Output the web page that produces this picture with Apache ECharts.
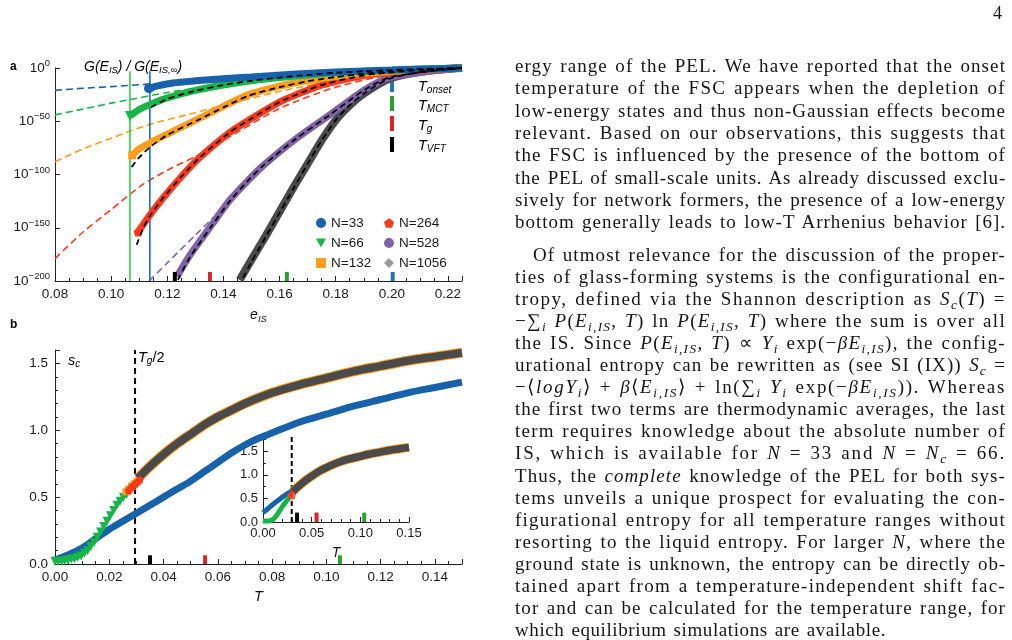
<!DOCTYPE html>
<html><head><meta charset="utf-8">
<script src="https://cdn.jsdelivr.net/npm/echarts@6/dist/echarts.min.js"></script>
<style>
html,body{margin:0;padding:0;background:#fff;width:1012px;height:640px;overflow:hidden}
#c{position:absolute;left:0;top:0;width:1012px;height:640px}
#txt{position:absolute;left:515px;top:0;width:491px;height:640px;font-family:'Liberation Serif','Times New Roman',serif;font-size:19px;color:#151515}
.l{position:absolute;left:0;white-space:nowrap;line-height:22px}
.l i{font-style:italic}
.l sub{font-size:0.7em;vertical-align:-0.28em;line-height:0}
#pg{position:absolute;left:993px;top:3px;font-family:'Liberation Serif',serif;font-size:18px;color:#151515}
</style></head><body>
<div id="c"></div>
<div id="txt"></div>
<div id="pg">4</div>
<script>
// ---------------- Panel a : log10 G(E_IS)/G(E_IS,inf) vs e_IS ----------------
const aXRange = [0.08, 0.225];
const aYRange = [-200, 0];
const aYTickLabels = [-200, -150, -100, -50, 0];
// thick data bands [e_IS, log10 G]
const aBandN33  = [[0.1135,-19],[0.117,-16.5],[0.122,-14],[0.13,-12],[0.14,-10],[0.15,-8.5],[0.166,-5.7],[0.18,-3.8],[0.19,-2.7],[0.20,-1.9],[0.21,-1.1],[0.225,0]];
const aBandN66  = [[0.1067,-45],[0.11,-39],[0.115,-33],[0.12,-28],[0.13,-21],[0.14,-16],[0.15,-12],[0.16,-9],[0.17,-6.5],[0.18,-4.5],[0.19,-3],[0.20,-2],[0.21,-1],[0.225,0]];
const aBandN132 = [[0.1075,-82],[0.11,-76],[0.114,-70],[0.12,-62],[0.1316,-47],[0.14,-36],[0.149,-25],[0.16,-17],[0.17,-12],[0.18,-8],[0.19,-5],[0.20,-3],[0.21,-1.5],[0.225,0]];
const aBandN264 = [[0.1096,-154],[0.1138,-138],[0.1185,-122],[0.1257,-100],[0.1316,-84],[0.142,-61],[0.149,-49],[0.16,-32],[0.166,-25],[0.175,-16],[0.19,-7],[0.20,-4],[0.21,-2],[0.225,0]];
const aBandN528 = [[0.1234,-196],[0.128,-176],[0.1362,-146],[0.1423,-124],[0.1494,-104],[0.154,-92],[0.1661,-66],[0.1779,-44],[0.19,-21],[0.199,-9],[0.2135,-3],[0.225,0]];
const aBandN1056= [[0.1458,-199],[0.15,-180],[0.155,-158],[0.16,-135],[0.165,-112],[0.17,-90],[0.175,-68],[0.18,-49],[0.185,-35],[0.19,-24],[0.1992,-10],[0.2135,-2.5],[0.225,0]];
// black dashed fits
const aFitN66   = [[0.1142,-37],[0.12,-29],[0.13,-21.5],[0.14,-16],[0.15,-12],[0.16,-9],[0.17,-6.5],[0.18,-4.5],[0.19,-3],[0.20,-2],[0.21,-1],[0.225,0]];
const aFitN132  = [[0.1073,-93],[0.11,-84],[0.114,-74],[0.12,-63],[0.1316,-48],[0.14,-37],[0.149,-26],[0.16,-18],[0.17,-12.5],[0.18,-8.5],[0.19,-5.5],[0.20,-3],[0.21,-1.5],[0.225,0]];
const aFitN264  = [[0.1091,-166],[0.1115,-150],[0.1138,-139],[0.1185,-122],[0.1257,-100],[0.1316,-84],[0.142,-61],[0.149,-49],[0.16,-32],[0.175,-16],[0.19,-7],[0.20,-4],[0.21,-2],[0.225,0]];
const aFitN528  = [[0.1238,-199],[0.128,-178],[0.1362,-147],[0.1423,-125],[0.1494,-104],[0.154,-92],[0.1661,-66],[0.1779,-44],[0.19,-21],[0.199,-9],[0.2135,-3],[0.225,0]];
const aFitN1056 = [[0.147,-197],[0.15,-182],[0.155,-159],[0.16,-136],[0.165,-113],[0.17,-90],[0.175,-68],[0.18,-49],[0.185,-35],[0.19,-24],[0.1992,-10],[0.2135,-2.5],[0.225,0]];
// coloured dashed (Gaussian) extrapolations
const aGaussN33  = [[0.08,-21],[0.09,-19],[0.10,-17.5],[0.114,-15],[0.13,-12],[0.15,-8.5],[0.17,-5.5],[0.19,-3],[0.21,-1.2],[0.225,0]];
const aGaussN66  = [[0.08,-44],[0.09,-38.5],[0.10,-33],[0.107,-29.5],[0.12,-23],[0.13,-19],[0.14,-15.5],[0.16,-10],[0.18,-5.5],[0.20,-2.5],[0.225,0]];
const aGaussN132 = [[0.08,-88],[0.09,-76],[0.10,-66],[0.107,-59],[0.115,-52],[0.127,-44],[0.14,-35],[0.16,-22],[0.18,-12],[0.20,-5],[0.225,0]];
const aGaussN264 = [[0.08,-179],[0.09,-154],[0.10,-133],[0.107,-118],[0.1115,-109],[0.12,-96],[0.13,-83],[0.14,-68],[0.16,-38],[0.18,-18],[0.20,-6],[0.225,0]];
const aGaussN528 = [[0.1135,-200],[0.12,-183],[0.13,-157],[0.14,-131],[0.146,-115],[0.15,-104],[0.16,-80],[0.17,-58],[0.18,-38],[0.19,-21],[0.20,-9],[0.21,-3],[0.225,0]];
// vertical lines (lowest energies N=66, N=33)
const aVLineE = [0.1067, 0.1138];
const aVLineTop = -3;
// temperature marks on the energy axis: T_VFT, T_g, T_MCT, T_onset
const aTempMarks = [0.1227, 0.1352, 0.1626, 0.2003];

// ---------------- Panel b : s_c vs T ----------------
const bXRange = [0, 0.15];
const bYRange = [0, 1.6];
const bBlueN33 = [[0,0.03],[0.005,0.07],[0.01,0.12],[0.015,0.19],[0.02,0.26],[0.025,0.32],[0.03,0.38],[0.035,0.44],[0.04,0.50],[0.045,0.56],[0.05,0.62],[0.055,0.69],[0.06,0.76],[0.065,0.83],[0.07,0.89],[0.075,0.94],[0.08,0.98],[0.09,1.06],[0.10,1.12],[0.11,1.18],[0.12,1.23],[0.13,1.28],[0.14,1.32],[0.15,1.36]];
const bGreenN66 = [[0,0.02],[0.0012,0.02],[0.0024,0.02],[0.0036,0.025],[0.0048,0.03],[0.006,0.035],[0.0072,0.04],[0.0084,0.05],[0.0096,0.06],[0.0108,0.08],[0.012,0.10],[0.0132,0.13],[0.0144,0.16],[0.0156,0.20],[0.0168,0.24],[0.018,0.28],[0.0192,0.32],[0.0204,0.36],[0.0216,0.40],[0.0228,0.44],[0.024,0.47],[0.0252,0.50],[0.0264,0.52],[0.0276,0.55],[0.0288,0.575]];
const bOrangeN132 = [[0.0262,0.54],[0.0272,0.56],[0.0282,0.58],[0.0292,0.60],[0.0302,0.62]];
const bRedN264 = [[0.0272,0.55],[0.028,0.57],[0.0288,0.585],[0.0296,0.60],[0.0304,0.615],[0.0312,0.63]];
const bGrayLarge = [[0.0305,0.64],[0.035,0.73],[0.04,0.82],[0.045,0.90],[0.05,0.97],[0.055,1.04],[0.06,1.10],[0.065,1.15],[0.07,1.20],[0.08,1.28],[0.09,1.34],[0.10,1.39],[0.11,1.44],[0.12,1.48],[0.13,1.52],[0.14,1.55],[0.15,1.58]];
const bTgHalf = 0.0295;
const bTempMarks = [0.035, 0.0553, 0.105]; // T_VFT, T_g, T_MCT
// inset
const iXRange = [0, 0.15];
const iYRange = [0, 1.8];
const iBlueN33 = [[0,0.2],[0.005,0.28],[0.01,0.37],[0.015,0.45],[0.02,0.53],[0.025,0.6],[0.03,0.66]];
const iGreenN66 = [[0,0.02],[0.005,0.02],[0.01,0.05],[0.015,0.17],[0.02,0.33],[0.025,0.47],[0.029,0.56]];
const iRedPoint = [[0.0295,0.57]];
const iTempMarks = [0.035, 0.055, 0.104];

// ---------------- styling ----------------
const FONT = "'Liberation Sans', Arial, Helvetica, sans-serif";
const COL = {n33:'#1762aa', n66:'#18b548', n132:'#ff9d1c', n264:'#ff3a1c', n528:'#8062a8', n1056:'#4a4a4a',
             vgreen:'#33cc44', vblue:'#1f6db3', onset:'#1f77b4', mct:'#2ca02c', tg:'#d62728', vft:'#000'};
const DOWN_TRI = 'path://M0,0 L2,0 L1,1.8 Z';
const PENTA = 'path://M0,-1 L0.951,-0.309 L0.588,0.809 L-0.588,0.809 L-0.951,-0.309 Z';

function fmt(interval, dec){ return v => { const k=v/interval; return Math.abs(k-Math.round(k))<1e-6 ? v.toFixed(dec) : ''; }; }
function axis(extra){
  return Object.assign({
    type:'value',
    axisLine:{show:true,onZero:false,lineStyle:{color:'#222',width:1}},
    axisTick:{show:true,inside:true,length:5,lineStyle:{color:'#222'}},
    minorTick:{show:false},
    splitLine:{show:false}, minorSplitLine:{show:false},
    axisLabel:{color:'#1a1a1a',fontFamily:FONT,fontSize:13.5,margin:6}
  }, extra);
}
function ln(o){
  return Object.assign({type:'line', smooth:0.25, symbol:'none', showSymbol:true, silent:true, animation:false}, o);
}
function withStart(data, symbol, size, color){
  return data.map((p,i)=> i===0 ? {value:p, symbol:symbol, symbolSize:size, itemStyle:{color:color}} : p);
}
function vseg(x, y0, y1){ return [[x,y0],[x,y1]]; }

const series = [];
// panel a : coloured dashed
[[aGaussN33,COL.n33],[aGaussN66,COL.n66],[aGaussN132,COL.n132],[aGaussN264,COL.n264],[aGaussN528,COL.n528]].forEach(([d,c])=>{
  series.push(ln({xAxisIndex:0,yAxisIndex:0,data:d,lineStyle:{color:c,width:1.6,type:[7,4]},z:2}));
});
// vertical lines
series.push(ln({xAxisIndex:0,yAxisIndex:0,smooth:false,data:vseg(aVLineE[0],aYRange[0],aVLineTop),lineStyle:{color:COL.vgreen,width:1.6},z:3}));
series.push(ln({xAxisIndex:0,yAxisIndex:0,smooth:false,data:vseg(aVLineE[1],aYRange[0],aVLineTop),lineStyle:{color:COL.vblue,width:1.6},z:3}));
// bands
series.push(ln({name:'N=1056',xAxisIndex:0,yAxisIndex:0,data:aBandN1056,clip:true,lineStyle:{color:COL.n1056,width:8},itemStyle:{color:COL.n1056},z:4}));
series.push(ln({name:'N=528',xAxisIndex:0,yAxisIndex:0,data:aBandN528,clip:true,lineStyle:{color:COL.n528,width:7},itemStyle:{color:COL.n528},z:4}));
series.push(ln({name:'N=264',xAxisIndex:0,yAxisIndex:0,data:withStart(aBandN264,PENTA,9,COL.n264),clip:false,lineStyle:{color:COL.n264,width:7},itemStyle:{color:COL.n264},z:4}));
series.push(ln({name:'N=132',xAxisIndex:0,yAxisIndex:0,data:withStart(aBandN132,'rect',8,COL.n132),clip:false,lineStyle:{color:COL.n132,width:7},itemStyle:{color:COL.n132},z:4}));
series.push(ln({name:'N=66',xAxisIndex:0,yAxisIndex:0,data:withStart(aBandN66,DOWN_TRI,10,COL.n66),clip:false,lineStyle:{color:COL.n66,width:7},itemStyle:{color:COL.n66},z:4}));
series.push(ln({name:'N=33',xAxisIndex:0,yAxisIndex:0,data:withStart(aBandN33,'circle',10,COL.n33),clip:false,lineStyle:{color:COL.n33,width:7},itemStyle:{color:COL.n33},z:4}));
// black dashed fits
[aFitN66,aFitN132,aFitN264,aFitN528,aFitN1056].forEach(d=>{
  series.push(ln({xAxisIndex:0,yAxisIndex:0,data:d,clip:false,lineStyle:{color:'#000',width:1.8,type:[6,4]},z:5}));
});
// temperature marks on axis a
[COL.vft,COL.tg,COL.mct,COL.onset].forEach((c,i)=>{
  series.push(ln({xAxisIndex:0,yAxisIndex:0,smooth:false,data:vseg(aTempMarks[i],aYRange[0],aYRange[0]+8.5),lineStyle:{color:c,width:4,cap:'butt'},z:6}));
});

// panel b
series.push(ln({xAxisIndex:1,yAxisIndex:1,smooth:false,data:vseg(bTgHalf,bYRange[0],bYRange[1]),lineStyle:{color:'#000',width:2,type:[6,4]},z:2}));
series.push(ln({xAxisIndex:1,yAxisIndex:1,data:bBlueN33,lineStyle:{color:COL.n33,width:7},z:3}));
series.push(ln({xAxisIndex:1,yAxisIndex:1,data:bGreenN66,symbol:DOWN_TRI,symbolSize:9,showSymbol:true,itemStyle:{color:COL.n66},lineStyle:{color:COL.n66,width:3},z:4}));
series.push(ln({xAxisIndex:1,yAxisIndex:1,data:bGrayLarge,lineStyle:{color:COL.n132,width:10},z:4}));
series.push(ln({xAxisIndex:1,yAxisIndex:1,data:bGrayLarge,lineStyle:{color:COL.n1056,width:8},z:5}));
series.push(ln({xAxisIndex:1,yAxisIndex:1,data:bOrangeN132,symbol:'rect',symbolSize:7,showSymbol:true,itemStyle:{color:COL.n132},lineStyle:{color:COL.n132,width:4},z:5}));
series.push(ln({xAxisIndex:1,yAxisIndex:1,data:bRedN264,symbol:PENTA,symbolSize:8,showSymbol:true,itemStyle:{color:COL.n264},lineStyle:{color:COL.n264,width:4},z:6}));
[COL.vft,COL.tg,COL.mct].forEach((c,i)=>{
  series.push(ln({xAxisIndex:1,yAxisIndex:1,smooth:false,data:vseg(bTempMarks[i],0,0.065),lineStyle:{color:c,width:4,cap:'butt'},z:6}));
});
// inset
series.push(ln({xAxisIndex:2,yAxisIndex:2,smooth:false,data:vseg(bTgHalf,iYRange[0],iYRange[1]),lineStyle:{color:'#000',width:2,type:[5,3]},z:2}));
series.push(ln({xAxisIndex:2,yAxisIndex:2,data:iBlueN33,lineStyle:{color:COL.n33,width:5},z:3}));
series.push(ln({xAxisIndex:2,yAxisIndex:2,data:iGreenN66,lineStyle:{color:COL.n66,width:5},z:4}));
series.push(ln({xAxisIndex:2,yAxisIndex:2,data:bGrayLarge,lineStyle:{color:COL.n132,width:9},z:4}));
series.push(ln({xAxisIndex:2,yAxisIndex:2,data:bGrayLarge,lineStyle:{color:COL.n1056,width:7.5},z:5}));
series.push({type:'scatter',xAxisIndex:2,yAxisIndex:2,data:iRedPoint,symbol:PENTA,symbolSize:9,itemStyle:{color:COL.n264},silent:true,z:6});
[COL.vft,COL.tg,COL.mct].forEach((c,i)=>{
  series.push(ln({xAxisIndex:2,yAxisIndex:2,smooth:false,data:vseg(iTempMarks[i],0,0.2),lineStyle:{color:c,width:4,cap:'butt'},z:6}));
});

const legendText = {fontFamily:FONT,fontSize:13.5,color:'#1a1a1a'};
const sub = (s)=>({fontFamily:FONT,fontStyle:'italic',fontSize:s,padding:[7,0,0,0],color:'#111'});
const itl = (s)=>({fontFamily:FONT,fontStyle:'italic',fontSize:s,color:'#111'});

const option = {
  animation:false,
  backgroundColor:'#fff',
  grid:[
    {left:55, top:68, width:407, height:213},
    {left:55, top:350, width:407, height:214},
    {left:263, top:437, width:146, height:85}
  ],
  xAxis:[
    axis({gridIndex:0,min:aXRange[0],max:aXRange[1],interval:0.02,
      minorTick:{show:true,splitNumber:4,length:3,lineStyle:{color:'#222'}},
      axisLabel:{color:'#1a1a1a',fontFamily:FONT,fontSize:13.5,margin:6,formatter:fmt(0.02,2)},
      name:'{e|e}{s|IS}',nameLocation:'middle',nameGap:26,
      nameTextStyle:{rich:{e:itl(14),s:sub(9.5)}}}),
    axis({gridIndex:1,min:bXRange[0],max:bXRange[1],interval:0.02,
      minorTick:{show:true,splitNumber:4,length:3,lineStyle:{color:'#222'}},
      axisLabel:{color:'#1a1a1a',fontFamily:FONT,fontSize:13.5,margin:6,formatter:fmt(0.02,2)},
      name:'T',nameLocation:'middle',nameGap:25,nameTextStyle:{fontFamily:FONT,fontStyle:'italic',fontSize:14.5,color:'#111'}}),
    axis({gridIndex:2,min:iXRange[0],max:iXRange[1],interval:0.05,
      minorTick:{show:true,splitNumber:5,length:3,lineStyle:{color:'#222'}},
      axisLabel:{color:'#1a1a1a',fontFamily:FONT,fontSize:13,margin:5,formatter:fmt(0.05,2)},
      name:'T',nameLocation:'middle',nameGap:24,nameTextStyle:{fontFamily:FONT,fontStyle:'italic',fontSize:14,color:'#111'}})
  ],
  yAxis:[
    axis({gridIndex:0,min:aYRange[0],max:aYRange[1],interval:50,
      axisLabel:{margin:5,formatter:v=> aYTickLabels.includes(v) ? '{b|10}{e|'+(v===0?'0':'\u2212'+(-v))+'}' : '',
        rich:{b:{fontFamily:FONT,fontSize:13.5,color:'#1a1a1a'},e:{fontFamily:FONT,fontSize:9.5,color:'#1a1a1a',padding:[0,0,9,0]}}}}),
    axis({gridIndex:1,min:bYRange[0],max:bYRange[1],interval:0.5,
      minorTick:{show:true,splitNumber:5,length:3,lineStyle:{color:'#222'}},
      axisLabel:{color:'#1a1a1a',fontFamily:FONT,fontSize:13.5,margin:7,formatter:fmt(0.5,1)}}),
    axis({gridIndex:2,min:iYRange[0],max:iYRange[1],interval:0.5,
      minorTick:{show:true,splitNumber:2,length:3,lineStyle:{color:'#222'}},
      axisLabel:{color:'#1a1a1a',fontFamily:FONT,fontSize:13,margin:5,formatter:fmt(0.5,1)}})
  ],
  legend:[
    {left:311,top:211,orient:'vertical',itemGap:6,itemWidth:10,itemHeight:10,selectedMode:false,textStyle:legendText,
     data:[{name:'N=33',icon:'circle',itemStyle:{color:COL.n33}},{name:'N=66',icon:DOWN_TRI,itemStyle:{color:COL.n66}},{name:'N=132',icon:'rect',itemStyle:{color:COL.n132}}]},
    {left:379,top:211,orient:'vertical',itemGap:6,itemWidth:10,itemHeight:10,selectedMode:false,textStyle:legendText,
     data:[{name:'N=264',icon:PENTA,itemStyle:{color:COL.n264}},{name:'N=528',icon:'circle',itemStyle:{color:COL.n528}},{name:'N=1056',icon:'diamond',itemStyle:{color:'#9a9a9a'}}]}
  ],
  graphic:[
    {type:'text',style:{x:10,y:67,text:'a',font:'bold 12px '+FONT,fill:'#000',verticalAlign:'middle'}},
    {type:'text',style:{x:10,y:325,text:'b',font:'bold 12px '+FONT,fill:'#000',verticalAlign:'middle'}},
    {type:'text',style:{x:84,y:67,verticalAlign:'middle',text:'{i|G(E}{s|IS}{i|) / G(E}{s|IS,\u221E}{i|)}',rich:{i:itl(14),s:sub(9.5)}}},
    {type:'rect',shape:{x:390,y:77,width:4,height:15},style:{fill:COL.onset}},
    {type:'rect',shape:{x:390,y:96,width:4,height:15},style:{fill:COL.mct}},
    {type:'rect',shape:{x:390,y:116,width:4,height:15},style:{fill:COL.tg}},
    {type:'rect',shape:{x:390,y:137,width:4,height:15},style:{fill:COL.vft}},
    {type:'text',style:{x:418,y:87,verticalAlign:'middle',text:'{t|T}{s|onset}',rich:{t:itl(14.5),s:sub(10)}}},
    {type:'text',style:{x:418,y:106,verticalAlign:'middle',text:'{t|T}{s|MCT}',rich:{t:itl(14.5),s:sub(10)}}},
    {type:'text',style:{x:418,y:126,verticalAlign:'middle',text:'{t|T}{s|g}',rich:{t:itl(14.5),s:sub(10)}}},
    {type:'text',style:{x:418,y:146,verticalAlign:'middle',text:'{t|T}{s|VFT}',rich:{t:itl(14.5),s:sub(10)}}},
    {type:'text',style:{x:68,y:361,verticalAlign:'middle',text:'{t|s}{s|c}',rich:{t:itl(14.5),s:sub(10)}}},
    {type:'text',style:{x:138,y:358,verticalAlign:'middle',text:'{t|T}{s|g}{n|/2}',rich:{t:itl(14.5),s:sub(10),n:{fontFamily:FONT,fontSize:14.5,color:'#111'}}}}
  ],
  series:series
};
const chart = echarts.init(document.getElementById('c'), null, {renderer:'canvas', width:1012, height:640});
chart.setOption(option);

// ---------------- text column ----------------
const para1 = [
"ergy range of the PEL. We have reported that the onset",
"temperature of the FSC appears when the depletion of",
"low-energy states and thus non-Gaussian effects become",
"relevant. Based on our observations, this suggests that",
"the FSC is influenced by the presence of the bottom of",
"the PEL of small-scale units. As already discussed exclu-",
"sively for network formers, the presence of a low-energy",
"bottom generally leads to low-T Arrhenius behavior [6]."
];
const para2 = [
"Of utmost relevance for the discussion of the proper-",
"ties of glass-forming systems is the configurational en-",
"tropy, defined via the Shannon description as <i>S</i><sub><i>c</i></sub>(<i>T</i>) =",
"\u2212\u2211<sub><i>i</i></sub> <i>P</i>(<i>E</i><sub><i>i,IS</i></sub>, <i>T</i>) ln <i>P</i>(<i>E</i><sub><i>i,IS</i></sub>, <i>T</i>) where the sum is over all",
"the IS. Since <i>P</i>(<i>E</i><sub><i>i,IS</i></sub>, <i>T</i>) \u221D <i>Y</i><sub><i>i</i></sub> exp(\u2212<i>\u03B2E</i><sub><i>i,IS</i></sub>), the config-",
"urational entropy can be rewritten as (see SI (IX)) <i>S</i><sub><i>c</i></sub> =",
"\u2212\u27E8<i>logY</i><sub><i>i</i></sub>\u27E9 + <i>\u03B2</i>\u27E8<i>E</i><sub><i>i,IS</i></sub>\u27E9 + ln(\u2211<sub><i>i</i></sub> <i>Y</i><sub><i>i</i></sub> exp(\u2212<i>\u03B2E</i><sub><i>i,IS</i></sub>)). Whereas",
"the first two terms are thermodynamic averages, the last",
"term requires knowledge about the absolute number of",
"IS, which is available for <i>N</i> = 33 and <i>N</i> = <i>N</i><sub><i>c</i></sub> = 66.",
"Thus, the <i>complete</i> knowledge of the PEL for both sys-",
"tems unveils a unique prospect for evaluating the con-",
"figurational entropy for all temperature ranges without",
"resorting to the liquid entropy. For larger <i>N</i>, where the",
"ground state is unknown, the entropy can be directly ob-",
"tained apart from a temperature-independent shift fac-",
"tor and can be calculated for the temperature range, for",
"which equilibrium simulations are available."
];
const TXT = document.getElementById('txt');
const W = 491;
function addLine(html, yc, indent, justify){
  const d = document.createElement('div');
  d.className='l'; d.innerHTML = html;
  d.style.top = (yc-12)+'px'; d.style.left = indent+'px';
  TXT.appendChild(d);
  const txt = d.textContent;
  const n = (txt.match(/ /g)||[]).length;
  const target = W - indent;
  if (justify){
    const w = d.getBoundingClientRect().width;
    const extra = target - w;
    const wsPart = Math.min(Math.max(extra,0), n*1.6);
    const ls = Math.max(0, (extra - wsPart) / txt.length);
    d.style.letterSpacing = ls + 'px';
    const w2 = d.getBoundingClientRect().width;
    if (n>0) d.style.wordSpacing = ((target - w2)/n)+'px';
  } else {
    d.style.letterSpacing = '0.6px';
    d.style.wordSpacing = '1.6px';
  }
}
para1.forEach((h,k)=> addLine(h, 67+22.3*k, 0, true));
para2.forEach((h,k)=> addLine(h, 255.5+22.1*k, k===0?18:0, k<para2.length-1));
</script>
</body></html>
